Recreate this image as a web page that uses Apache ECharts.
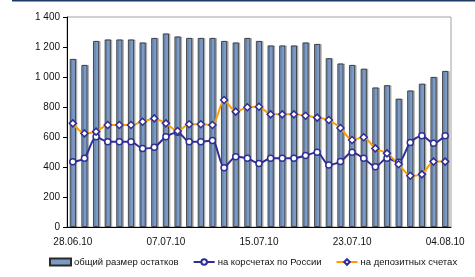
<!DOCTYPE html>
<html>
<head>
<meta charset="utf-8">
<script src="https://cdn.jsdelivr.net/npm/echarts@6/dist/echarts.min.js"></script>
<style>
html, body { margin: 0; padding: 0; background: #fff; }
#chart { width: 475px; height: 277px; }
</style>
</head>
<body>
<div id="chart"></div>
<script>
var dates = ["28.06.10", "29.06.10", "30.06.10", "01.07.10", "02.07.10", "03.07.10", "05.07.10", "06.07.10",
    "07.07.10", "08.07.10", "09.07.10", "10.07.10", "11.07.10", "12.07.10", "13.07.10", "14.07.10",
    "15.07.10", "16.07.10", "17.07.10", "18.07.10", "19.07.10", "20.07.10", "21.07.10", "22.07.10",
    "23.07.10", "26.07.10", "27.07.10", "28.07.10", "29.07.10", "30.07.10", "02.08.10", "03.08.10",
    "04.08.10"];

var totalBalance = [1120, 1080, 1240, 1250, 1250, 1250, 1230, 1260, 1290, 1270, 1260, 1260, 1260, 1240,
    1230, 1260, 1240, 1210, 1210, 1210, 1230, 1220, 1125, 1090, 1080, 1055, 930, 945, 855, 910, 955,
    1000, 1040];

var corrAccounts = [435, 458, 602, 569, 569, 569, 524, 531, 602, 631, 569, 569, 576, 395, 469, 458, 424,
    458, 458, 458, 476, 498, 413, 436, 498, 458, 402, 458, 431, 564, 609, 558, 609];

var depositAccounts = [691, 624, 636, 680, 680, 680, 702, 724, 691, 640, 685, 685, 680, 847, 769, 798,
    802, 751, 751, 751, 742, 729, 713, 660, 580, 598, 524, 491, 418, 342, 351, 436, 436];

var seriesNames = ["общий размер остатков", "на корсчетах по России", "на депозитных счетах"];

var chart = echarts.init(document.getElementById("chart"));

var font = "Liberation Sans, Arial, sans-serif";

var option = {
    animation: false,
    textStyle: { fontFamily: font },
    graphic: [
        { type: "rect", shape: { x: 12, y: 0, width: 463, height: 1.5 }, style: { fill: "#1F3A68" } }
    ],
    grid: {
        left: 67, right: 24, top: 17, bottom: 50,
        show: true, borderColor: "#A0A0A0", borderWidth: 1, backgroundColor: "#fff"
    },
    legend: {
        top: 257,
        left: 49,
        right: 0,
        padding: 0,
        itemGap: 14,
        itemWidth: 21,
        itemHeight: 7,
        textStyle: { fontSize: 9.5, color: "#111", fontFamily: font, padding: [0, 0, 0, -2] },
        data: [
            { name: seriesNames[0], icon: "rect" },
            { name: seriesNames[1] },
            { name: seriesNames[2] }
        ]
    },
    xAxis: {
        type: "category",
        data: dates,
        boundaryGap: true,
        axisLine: { lineStyle: { color: "#000", width: 1 } },
        axisTick: { interval: 0, length: 4, lineStyle: { color: "#000" } },
        axisLabel: { interval: 7, fontSize: 10, color: "#111", margin: 10 }
    },
    yAxis: {
        type: "value",
        min: 0, max: 1400, interval: 200,
        axisLine: { show: true, lineStyle: { color: "#000", width: 1 } },
        axisTick: { show: true, length: 4, lineStyle: { color: "#000" } },
        splitLine: { show: false },
        axisLabel: {
            fontSize: 10, color: "#111", margin: 7,
            formatter: function (v) {
                return String(v).replace(/\B(?=(\d{3})+(?!\d))/g, " ");
            }
        }
    },
    series: [
        {
            name: seriesNames[0],
            type: "bar",
            data: totalBalance,
            barWidth: "52%",
            itemStyle: {
                color: "#7B9AC6",
                borderColor: "#2a2a2a",
                borderWidth: 0.8,
                shadowColor: "rgba(0,0,0,0.25)",
                shadowOffsetX: 1.5,
                shadowOffsetY: 0
            }
        },
        {
            name: seriesNames[1],
            type: "line",
            data: corrAccounts,
            smooth: 0.25,
            symbol: "circle",
            symbolSize: 6,
            lineStyle: { color: "#2E2E96", width: 2 },
            itemStyle: { color: "#fff", borderColor: "#2E2E96", borderWidth: 1.5 }
        },
        {
            name: seriesNames[2],
            type: "line",
            data: depositAccounts,
            smooth: 0.25,
            symbol: "diamond",
            symbolSize: 7,
            lineStyle: { color: "#FF9C00", width: 2 },
            itemStyle: { color: "#fff", borderColor: "#2E2E96", borderWidth: 1.5 }
        }
    ]
};

chart.setOption(option);
</script>
</body>
</html>
